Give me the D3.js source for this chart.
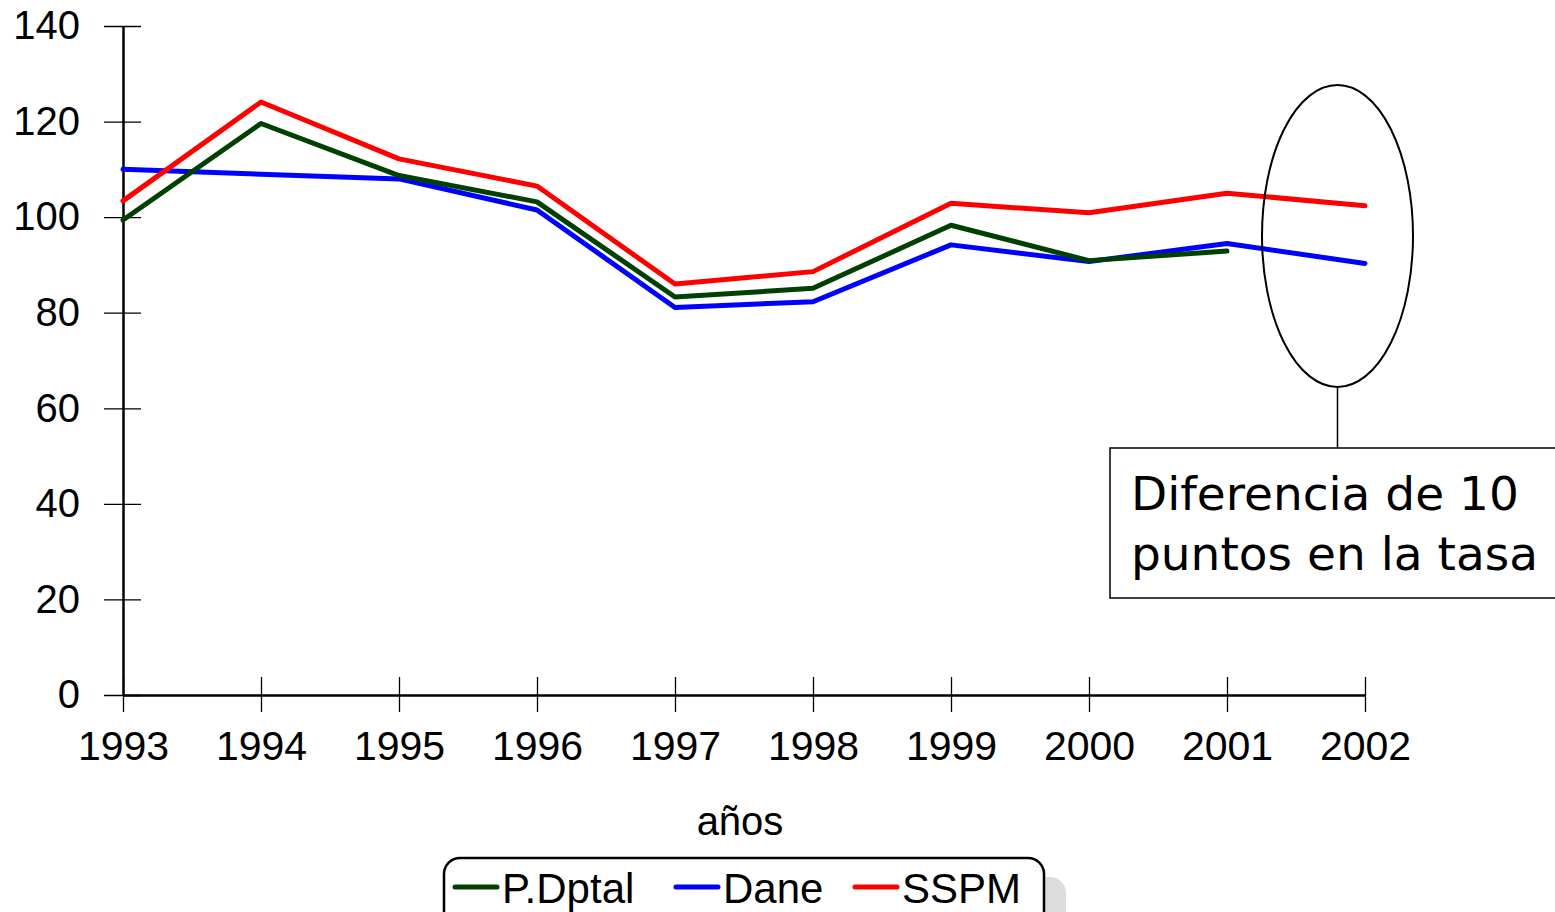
<!DOCTYPE html>
<html>
<head>
<meta charset="utf-8">
<script src="https://cdn.jsdelivr.net/npm/d3@7"></script>
<style>
  body { margin: 0; background: #fff; }
  svg text { font-family: "Liberation Sans", Arial, sans-serif; fill: #000; }
  .note text { font-family: "DejaVu Sans", Tahoma, sans-serif; }
</style>
</head>
<body>
<div class="chart"></div>
<script>
// data
var years  = [1993, 1994, 1995, 1996, 1997, 1998, 1999, 2000, 2001, 2002];
var pdptal = [99.4, 119.6, 108.7, 103.2, 83.3, 85.1, 98.3, 90.9, 92.9];
var dane   = [110.0, 109.0, 108.0, 101.5, 81.1, 82.3, 94.2, 90.7, 94.5, 90.3];
var sspm   = [103.4, 124.1, 112.2, 106.5, 86.0, 88.6, 102.9, 100.9, 105.0, 102.4];
var yTicks = [0, 20, 40, 60, 80, 100, 120, 140];
var seriesNames  = ["P.Dptal", "Dane", "SSPM"];
var seriesColors = ["#004000", "#0000ff", "#ff0000"];
var noteLines = ["Diferencia de 10", "puntos en la tasa"];

var width = 1555, height = 912;

var svg = d3.select(".chart").append("svg")
  .attr("width", width)
  .attr("height", height);

var x = d3.scaleLinear().domain([1993, 2002]).range([123, 1365]);
var y = d3.scaleLinear().domain([0, 140]).range([695, 26]);

// y axis
var yAxis = svg.append("g")
  .attr("transform", "translate(" + x(1993) + ",0)")
  .call(d3.axisLeft(y).tickValues(yTicks).tickSizeInner(19).tickSizeOuter(0).tickPadding(24));
yAxis.selectAll(".tick line").attr("x1", 18).attr("stroke-width", 1.3);
yAxis.select(".domain").attr("stroke-width", 2.5);
yAxis.selectAll("text").attr("font-size", 40).attr("font-family", "Liberation Sans, Arial, sans-serif");

// x axis
var xAxis = svg.append("g")
  .attr("transform", "translate(0," + y(0) + ")")
  .call(d3.axisBottom(x).tickValues(years).tickFormat(d3.format("d"))
        .tickSizeInner(17).tickSizeOuter(0).tickPadding(19));
xAxis.selectAll(".tick line").attr("y1", -18).attr("stroke-width", 1.3);
xAxis.select(".domain").attr("stroke-width", 2.5);
xAxis.selectAll("text").attr("font-size", 41).attr("font-family", "Liberation Sans, Arial, sans-serif");

svg.append("text")
  .attr("x", 740)
  .attr("y", 835)
  .attr("text-anchor", "middle")
  .attr("font-size", 40)
  .text("años");

// lines (drawn Dane first, then P.Dptal, then SSPM)
var line = d3.line()
  .x(function(d, i) { return x(years[i]); })
  .y(function(d) { return y(d); });

var drawOrder = [
  { name: "Dane", values: dane, color: seriesColors[1] },
  { name: "P.Dptal", values: pdptal, color: seriesColors[0] },
  { name: "SSPM", values: sspm, color: seriesColors[2] }
];

svg.selectAll(".lines")
  .data(drawOrder)
  .enter()
  .append("path")
  .attr("class", "lines")
  .attr("d", function(d) { return line(d.values); })
  .attr("fill", "none")
  .attr("stroke", function(d) { return d.color; })
  .attr("stroke-width", 5)
  .attr("stroke-linecap", "round")
  .attr("stroke-linejoin", "round");

// annotation: ellipse round the 2002 gap, callout box
var note = svg.append("g").attr("class", "note");
var ecx = 1337.5, ecy = 236, erx = 75.5, ery = 151;
note.append("ellipse")
  .attr("cx", ecx).attr("cy", ecy)
  .attr("rx", erx).attr("ry", ery)
  .attr("fill", "none")
  .attr("stroke", "#000")
  .attr("stroke-width", 2);
note.append("line")
  .attr("x1", ecx).attr("x2", ecx)
  .attr("y1", ecy + ery).attr("y2", 448)
  .attr("stroke", "#000")
  .attr("stroke-width", 1.5);
note.append("rect")
  .attr("x", 1110).attr("y", 448)
  .attr("width", 450).attr("height", 150)
  .attr("fill", "#fff")
  .attr("stroke", "#000")
  .attr("stroke-width", 1.5);
note.selectAll("text")
  .data(noteLines)
  .enter()
  .append("text")
  .attr("x", 1131)
  .attr("y", function(d, i) { return 510 + i * 60; })
  .attr("font-size", 47)
  .text(function(d) { return d; });

// legend
var legend = svg.append("g");
legend.append("rect")
  .attr("x", 465).attr("y", 877)
  .attr("width", 601).attr("height", 80)
  .attr("rx", 16)
  .attr("fill", "#dcdcdc");
legend.append("rect")
  .attr("x", 444).attr("y", 858)
  .attr("width", 600).attr("height", 80)
  .attr("rx", 16)
  .attr("fill", "#fff")
  .attr("stroke", "#000")
  .attr("stroke-width", 2.5);

var legendX = [455, 676, 855];
var items = legend.selectAll(".item")
  .data(seriesNames)
  .enter()
  .append("g")
  .attr("transform", function(d, i) { return "translate(" + legendX[i] + ",887)"; });
items.append("line")
  .attr("x1", 0).attr("x2", 42)
  .attr("stroke", function(d, i) { return seriesColors[i]; })
  .attr("stroke-width", 5)
  .attr("stroke-linecap", "round");
items.append("text")
  .attr("x", 47)
  .attr("y", 16)
  .attr("font-size", 42)
  .text(function(d) { return d; });
</script>
</body>
</html>
